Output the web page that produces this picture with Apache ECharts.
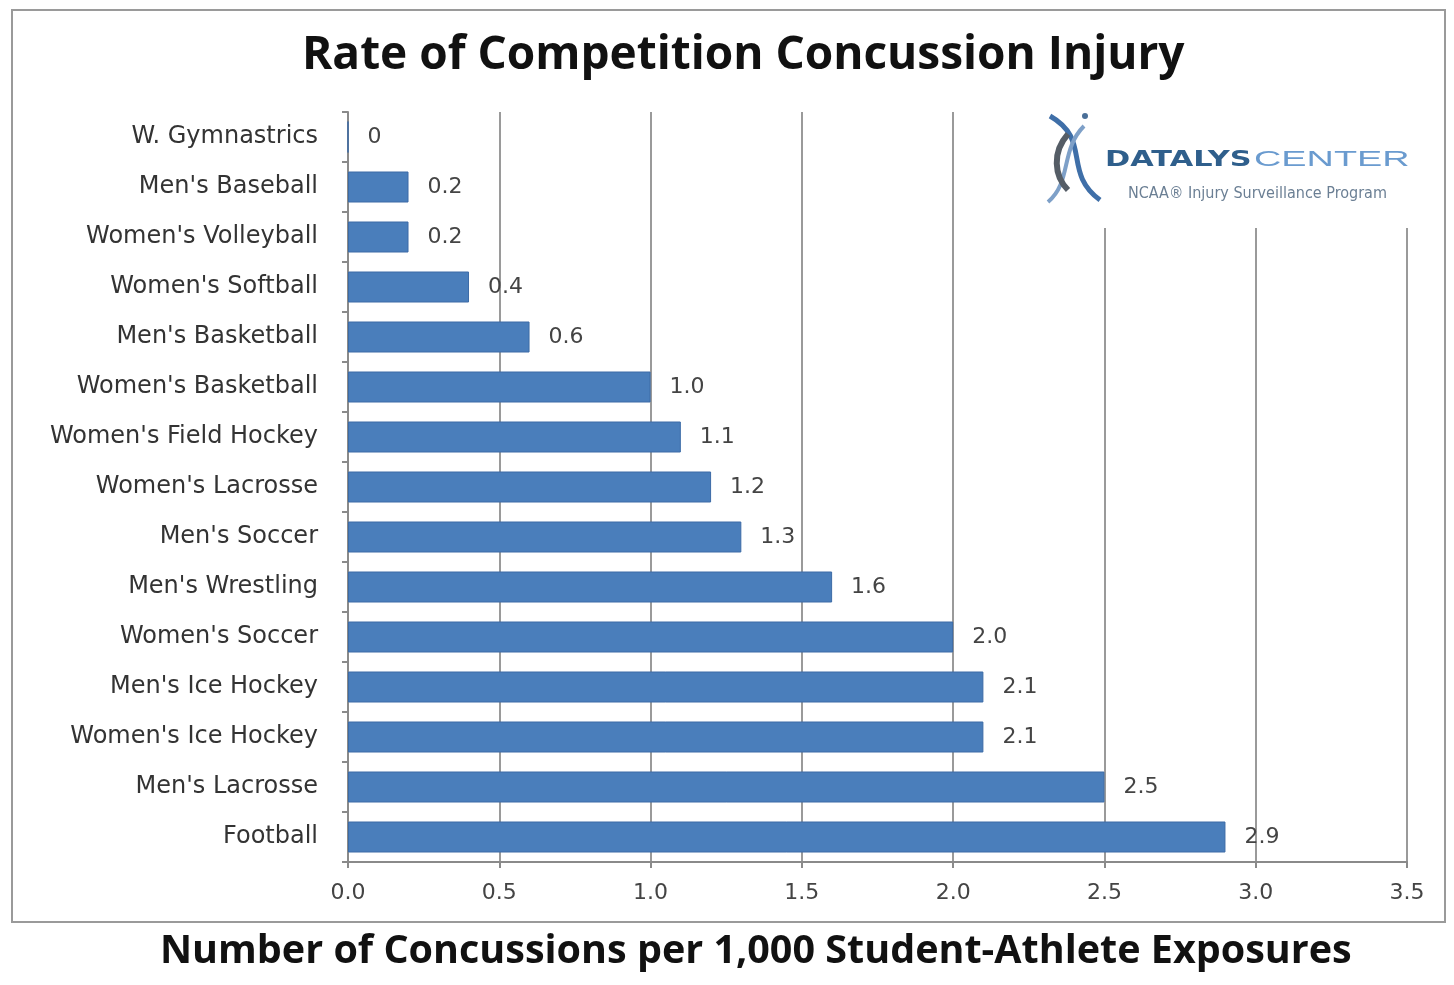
<!DOCTYPE html>
<html>
<head>
<meta charset="utf-8">
<style>
  html, body { margin: 0; padding: 0; background: #ffffff; }
  #chart { width: 1454px; height: 985px; }
</style>
<script src="https://cdn.jsdelivr.net/npm/echarts@6/dist/echarts.min.js"></script>
</head>
<body>
<div id="chart"></div>
<script>
// Sports, listed top to bottom
const sports = [
  'W. Gymnastrics', "Men's Baseball", "Women's Volleyball", "Women's Softball",
  "Men's Basketball", "Women's Basketball", "Women's Field Hockey", "Women's Lacrosse",
  "Men's Soccer", "Men's Wrestling", "Women's Soccer", "Men's Ice Hockey",
  "Women's Ice Hockey", "Men's Lacrosse", 'Football'
];
// Concussions per 1,000 student-athlete exposures
const rates = [0, 0.2, 0.2, 0.4, 0.6, 1.0, 1.1, 1.2, 1.3, 1.6, 2.0, 2.1, 2.1, 2.5, 2.9];
// Value axis ticks
const rateTicks = [0, 0.5, 1.0, 1.5, 2.0, 2.5, 3.0, 3.5];

const chart = echarts.init(document.getElementById('chart'), null, { renderer: 'canvas' });

const labelFont = '"DejaVu Sans", Verdana, sans-serif';
const titleFont = '"Open Sans", "Liberation Sans", sans-serif';

chart.setOption({
  backgroundColor: '#ffffff',
  animation: false,
  title: {
    text: 'Rate of Competition Concussion Injury',
    left: 297,
    top: 28,
    textStyle: { fontFamily: titleFont, fontWeight: 'bold', fontSize: 46, color: '#111111' }
  },
  grid: { left: 348, right: 47, top: 112, bottom: 123, containLabel: false },
  xAxis: {
    type: 'value',
    min: rateTicks[0],
    max: rateTicks[rateTicks.length - 1],
    interval: 0.5,
    axisLine: { show: true, lineStyle: { color: '#8a8a8a', width: 2 } },
    axisTick: { show: true, length: 6, lineStyle: { color: '#8a8a8a', width: 2 } },
    splitLine: { show: true, lineStyle: { color: '#9a9a9a', width: 2 } },
    axisLabel: {
      margin: 20,
      fontFamily: labelFont, fontSize: 22, color: '#444444',
      formatter: v => v.toFixed(1)
    }
  },
  yAxis: {
    type: 'category',
    data: sports,
    inverse: true,
    axisLine: { show: true, lineStyle: { color: '#8a8a8a', width: 2 } },
    axisTick: { show: true, length: 6, lineStyle: { color: '#8a8a8a', width: 2 } },
    axisLabel: { margin: 30, fontFamily: labelFont, fontSize: 24, color: '#333333' }
  },
  series: [{
    type: 'bar',
    data: rates,
    barCategoryGap: '38%',
    itemStyle: { color: '#4a7ebb', borderColor: '#3c6ba6', borderWidth: 1 },
    label: {
      show: true,
      position: 'right',
      distance: 19,
      fontFamily: labelFont, fontSize: 22, color: '#444444',
      formatter: p => (p.value === 0 ? '0' : p.value.toFixed(1))
    }
  }],
  graphic: [
    // chart frame
    {
      type: 'rect', z: -10, silent: true,
      shape: { x: 12, y: 10, width: 1433, height: 912 },
      style: { fill: 'none', stroke: '#9a9a9a', lineWidth: 2 }
    },
    // logo panel, drawn over the grid lines
    { type: 'rect', z: 100, shape: { x: 1036, y: 104, width: 404, height: 124 }, style: { fill: '#ffffff' } },
    { type: 'bezierCurve', z: 101, shape: { x1: 1050, y1: 116, x2: 1100, y2: 200, cpx1: 1092, cpy1: 140, cpx2: 1062, cpy2: 172 },
      style: { stroke: '#3f6fa8', lineWidth: 5, fill: 'none' } },
    { type: 'bezierCurve', z: 101, shape: { x1: 1084, y1: 126, x2: 1048, y2: 202, cpx1: 1060, cpy1: 150, cpx2: 1072, cpy2: 182 },
      style: { stroke: '#7ea0c8', lineWidth: 4, fill: 'none' } },
    { type: 'bezierCurve', z: 102, shape: { x1: 1068, y1: 134, x2: 1068, y2: 190, cpx1: 1052, cpy1: 152, cpx2: 1054, cpy2: 176 },
      style: { stroke: '#555d66', lineWidth: 6, fill: 'none' } },
    { type: 'circle', z: 101, shape: { cx: 1085, cy: 116, r: 3 }, style: { fill: '#4a6f98' } },
    { type: 'text', z: 101, x: 1105, y: 160, scaleX: 1.38,
      style: { text: 'DATALYS', fontFamily: '"DejaVu Sans", sans-serif', fontWeight: 'bold', fontSize: 22,
               fill: '#2f5f8c', verticalAlign: 'middle' } },
    { type: 'text', z: 101, x: 1254, y: 160, scaleX: 1.72,
      style: { text: 'CENTER', fontFamily: '"Liberation Sans", sans-serif', fontSize: 22,
               fill: '#6a9bcf', verticalAlign: 'middle' } },
    { type: 'text', z: 101, x: 1128, y: 194,
      style: { text: 'NCAA\u00ae Injury Surveillance Program', fontFamily: '"Liberation Sans Narrow", "DejaVu Sans Condensed", sans-serif', fontSize: 16,
               fill: '#6b7f94', verticalAlign: 'middle' } },
    // axis caption under the frame
    {
      type: 'text', left: 160, top: 932,
      style: {
        text: 'Number of Concussions per 1,000 Student-Athlete Exposures',
        fontFamily: titleFont, fontWeight: 'bold', fontSize: 39.5, fill: '#111111'
      }
    }
  ]
});
</script>
</body>
</html>
